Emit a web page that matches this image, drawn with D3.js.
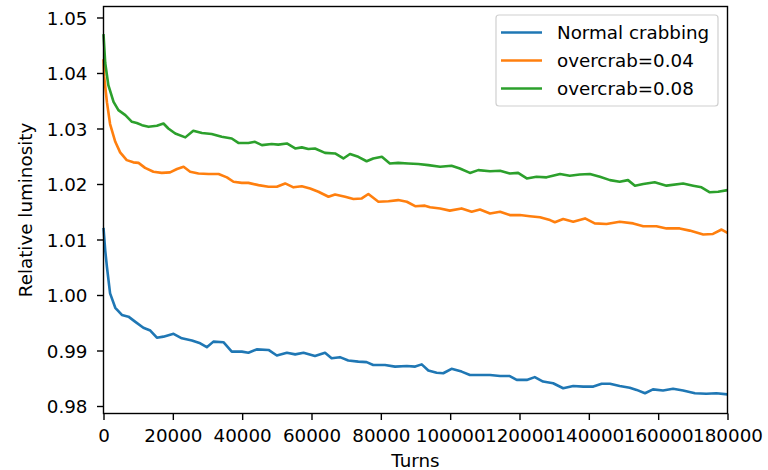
<!DOCTYPE html>
<html>
<head>
<meta charset="utf-8">
<script src="https://cdn.jsdelivr.net/npm/d3@7"></script>
<style>
html, body { margin: 0; padding: 0; background: #fff; }
svg { display: block; }
text { font-family: "DejaVu Sans", sans-serif; fill: #000; }
</style>
</head>
<body>
<svg id="chart" width="768" height="470"></svg>
<script>
// ---- data ----
const xTicks = [0, 20000, 40000, 60000, 80000, 100000, 120000, 140000, 160000, 180000];
const yTicks = [0.98, 0.99, 1.00, 1.01, 1.02, 1.03, 1.04, 1.05];
const seriesNames = ["Normal crabbing", "overcrab=0.04", "overcrab=0.08"];
const seriesColors = ["#1f77b4", "#ff7f0e", "#2ca02c"];
const xLabel = "Turns";
const yLabel = "Relative luminosity";

const turnsNormal = [0, 500, 1000, 1900, 3400, 5300, 7200, 9100, 11500, 13500, 15400, 17300, 20200, 22600, 25500, 27900, 29800, 31700, 34600, 37000, 39900, 41800, 44200, 47600, 50000, 52900, 55300, 57700, 61000, 63900, 65800, 68200, 70600, 73500, 75900, 77800, 81200, 84100, 87500, 89900, 91800, 93700, 96100, 98000, 100400, 103300, 105700, 108600, 111500, 114400, 117200, 119200, 122100, 124400, 126800, 129700, 132600, 135500, 138400, 141300, 143700, 146100, 148900, 151800, 153800, 156200, 158500, 161400, 164300, 167200, 170600, 173900, 176800, 180000];
const lumNormal = [1.0121, 1.0080, 1.0050, 1.0003, 0.9977, 0.9964, 0.9961, 0.9952, 0.9941, 0.9936, 0.9923, 0.9925, 0.9930, 0.9922, 0.9918, 0.9913, 0.9906, 0.9916, 0.9915, 0.9898, 0.9898, 0.9896, 0.9902, 0.9901, 0.9891, 0.9896, 0.9893, 0.9896, 0.9890, 0.9896, 0.9886, 0.9888, 0.9882, 0.9880, 0.9879, 0.9874, 0.9874, 0.9871, 0.9872, 0.9871, 0.9875, 0.9864, 0.9860, 0.9859, 0.9867, 0.9862, 0.9856, 0.9856, 0.9856, 0.9854, 0.9854, 0.9847, 0.9847, 0.9852, 0.9844, 0.9841, 0.9832, 0.9836, 0.9835, 0.9835, 0.9840, 0.9840, 0.9836, 0.9833, 0.9829, 0.9823, 0.9830, 0.9828, 0.9831, 0.9828, 0.9823, 0.9822, 0.9823, 0.9821];

const turnsOc04 = [0, 200, 1000, 1900, 3400, 4800, 6700, 8600, 10100, 12000, 14400, 16800, 19200, 21200, 23100, 25000, 27400, 30300, 33200, 35600, 37500, 39900, 41800, 44700, 47600, 50000, 52400, 54800, 57200, 59600, 62000, 64900, 66800, 69700, 72100, 74500, 76400, 79300, 82200, 85000, 87500, 89900, 92700, 94200, 97100, 99900, 103300, 106200, 108600, 111500, 114400, 117200, 120100, 123000, 125900, 128800, 130200, 132600, 135500, 138900, 141700, 145100, 148900, 152800, 155700, 159500, 162400, 166200, 169100, 173000, 175800, 178300, 180000];
const lumOc04 = [1.0425, 1.0393, 1.0347, 1.0308, 1.0276, 1.0257, 1.0243, 1.0239, 1.0238, 1.0229, 1.0222, 1.0220, 1.0221, 1.0227, 1.0231, 1.0222, 1.0219, 1.0218, 1.0218, 1.0212, 1.0204, 1.0202, 1.0202, 1.0198, 1.0195, 1.0195, 1.0201, 1.0194, 1.0196, 1.0192, 1.0186, 1.0177, 1.0181, 1.0177, 1.0173, 1.0174, 1.0182, 1.0168, 1.0169, 1.0171, 1.0168, 1.0160, 1.0161, 1.0158, 1.0156, 1.0152, 1.0156, 1.0150, 1.0154, 1.0147, 1.0150, 1.0144, 1.0144, 1.0142, 1.0140, 1.0135, 1.0131, 1.0137, 1.0132, 1.0138, 1.0129, 1.0128, 1.0132, 1.0129, 1.0124, 1.0124, 1.0120, 1.0120, 1.0116, 1.0109, 1.0110, 1.0118, 1.0112];

const turnsOc08 = [0, 500, 1400, 2900, 4300, 6300, 8200, 9600, 11100, 13000, 15400, 17300, 18700, 20700, 23600, 25900, 28400, 31200, 34100, 37000, 38900, 41800, 43700, 45700, 48500, 50400, 52900, 55300, 57200, 59100, 61000, 63900, 66800, 69200, 71100, 73500, 75900, 77800, 80300, 82600, 85000, 87900, 90800, 93700, 97100, 100400, 102800, 105700, 108100, 111500, 114400, 117200, 119600, 122100, 124900, 127800, 131700, 134500, 137400, 140300, 143200, 146100, 148900, 151300, 153300, 155700, 159000, 162400, 167200, 170100, 172500, 174900, 177300, 180000];
const lumOc08 = [1.0470, 1.0418, 1.0378, 1.0348, 1.0333, 1.0324, 1.0312, 1.0310, 1.0306, 1.0303, 1.0305, 1.0309, 1.0300, 1.0291, 1.0284, 1.0296, 1.0292, 1.0290, 1.0285, 1.0282, 1.0274, 1.0274, 1.0276, 1.0270, 1.0272, 1.0271, 1.0273, 1.0264, 1.0266, 1.0263, 1.0264, 1.0256, 1.0255, 1.0246, 1.0254, 1.0249, 1.0241, 1.0246, 1.0249, 1.0237, 1.0238, 1.0237, 1.0236, 1.0234, 1.0231, 1.0233, 1.0228, 1.0220, 1.0225, 1.0223, 1.0224, 1.0219, 1.0220, 1.0210, 1.0213, 1.0212, 1.0218, 1.0215, 1.0217, 1.0218, 1.0213, 1.0207, 1.0204, 1.0207, 1.0197, 1.0200, 1.0203, 1.0197, 1.0201, 1.0197, 1.0194, 1.0185, 1.0186, 1.0189];

// ---- chart ----
const FS = 18.3;
const L = 103.5, R = 727.5, T = 6.5, B = 413.5;
const svg = d3.select("#chart");

const x = d3.scaleLinear().domain([0, 180000]).range([L, R]);
const y = d3.scaleLinear().domain([0.97865, 1.05198]).range([B, T]);

const series = [
  { name: seriesNames[0], color: seriesColors[0], pts: d3.zip(turnsNormal, lumNormal) },
  { name: seriesNames[1], color: seriesColors[1], pts: d3.zip(turnsOc04, lumOc04) },
  { name: seriesNames[2], color: seriesColors[2], pts: d3.zip(turnsOc08, lumOc08) }
];

const line = d3.line().x(d => x(d[0])).y(d => y(d[1]));

svg.append("g").selectAll("path").data(series).join("path")
  .attr("d", d => line(d.pts))
  .attr("fill", "none")
  .attr("stroke", d => d.color)
  .attr("stroke-width", 2.6)
  .attr("stroke-linejoin", "round")
  .attr("stroke-linecap", "butt");

// axes
const xAxis = svg.append("g").attr("transform", `translate(0,${B})`)
  .call(d3.axisBottom(x).tickValues(xTicks).tickFormat(d3.format("d")).tickSize(6.5).tickSizeOuter(0));
xAxis.select(".domain").remove();
xAxis.selectAll(".tick line").attr("stroke", "#000").attr("stroke-width", 1.4);
xAxis.selectAll(".tick text").attr("y", 28.5).attr("dy", 0)
  .style("font-size", FS + "px").style("font-family", '"DejaVu Sans", sans-serif').attr("fill", "#000");

const yAxis = svg.append("g").attr("transform", `translate(${L},0)`)
  .call(d3.axisLeft(y).tickValues(yTicks).tickFormat(d3.format(".2f")).tickSize(6.5).tickPadding(9.5).tickSizeOuter(0));
yAxis.select(".domain").remove();
yAxis.selectAll(".tick line").attr("stroke", "#000").attr("stroke-width", 1.4);
yAxis.selectAll(".tick text").attr("dy", "0.36em")
  .style("font-size", FS + "px").style("font-family", '"DejaVu Sans", sans-serif').attr("fill", "#000");

// frame
svg.append("rect")
  .attr("x", L).attr("y", T).attr("width", R - L).attr("height", B - T)
  .attr("fill", "none").attr("stroke", "#000").attr("stroke-width", 1.4);

// axis labels
svg.append("text").attr("x", (L + R) / 2).attr("y", 466.5)
  .attr("text-anchor", "middle").style("font-size", FS + "px").text(xLabel);
svg.append("text")
  .attr("transform", `translate(32,${(T + B) / 2}) rotate(-90)`)
  .attr("text-anchor", "middle").style("font-size", FS + "px").text(yLabel);

// legend
const lg = svg.append("g");
lg.append("rect").attr("x", 496).attr("y", 15).attr("width", 222).attr("height", 91)
  .attr("rx", 3).attr("fill", "#fff").attr("fill-opacity", 0.8)
  .attr("stroke", "#d0d0d0").attr("stroke-width", 1.2);
const rowY = d3.scaleLinear().domain([0, 1]).range([32.5, 60.5]);
series.forEach((s, i) => {
  const yy = rowY(i);
  lg.append("line").attr("x1", 501).attr("x2", 542).attr("y1", yy).attr("y2", yy)
    .attr("stroke", s.color).attr("stroke-width", 2.6);
  lg.append("text").attr("x", 557).attr("y", yy).attr("dy", "0.36em")
    .style("font-size", FS + "px").text(s.name);
});
</script>
</body>
</html>
